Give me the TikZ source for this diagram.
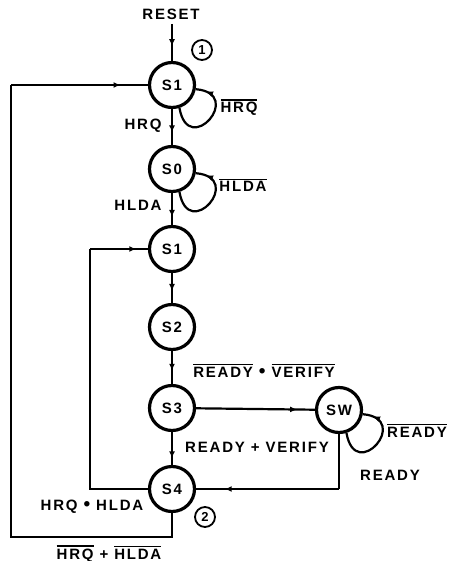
\documentclass[tikz,border=0pt]{standalone}
\usepackage{fontspec}
\setmainfont{Liberation Sans}[LetterSpace=12]
\usetikzlibrary{decorations.markings,arrows.meta}
\newcommand\ovl[1]{\vbox{\hrule height 1.3pt\kern1.8pt\hbox{#1}}}
\newcommand\bigdot{\raisebox{-0.5pt}{\fontsize{19}{19}\selectfont\textbullet}}
\tikzset{
  state/.style={circle,draw,line width=3.2pt,minimum size=45pt,inner sep=0pt,font=\fontsize{15}{17}\selectfont\bfseries},
  conn/.style={line width=2.2pt},
  lbl/.style={anchor=base,inner sep=0pt,font=\fontsize{15}{17}\selectfont\bfseries},
  num/.style={circle,draw,line width=1.8pt,minimum size=20pt,inner sep=0pt,font=\fontsize{13}{15}\selectfont\bfseries},
  marr/.style={postaction={decorate},decoration={markings,mark=at position #1 with {\arrow{Latex[length=7pt,width=6pt]}}}}
}
\begin{document}
\begin{tikzpicture}[x=1pt,y=1pt]
\useasboundingbox (0,0) rectangle (448,-561);
% states
\node[state] (S1a) at (172,-85) {S1};
\node[state] (S0) at (172,-169) {S0};
\node[state] (S1b) at (172,-249) {S1};
\node[state] (S2) at (172,-327) {S2};
\node[state] (S3) at (172,-408) {S3};
\node[state] (S4) at (172,-489) {S4};
\node[state] (SW) at (339,-410) {SW};
% reset
\node[lbl] (reset) at (171,-20) {RESET};
\coordinate (rs) at (172,-24);
\draw[conn,marr=0.6] (rs) -- (S1a);
% numbers
\node[num] (n1) at (202,-50) {1};
\node[num] (n2) at (205,-517) {2};
% vertical transitions
\draw[conn,marr=0.65] (S1a) -- (S0);
\draw[conn,marr=0.75] (S0) -- (S1b);
\draw[conn,marr=0.6] (S1b) -- (S2);
\draw[conn,marr=0.6] (S2) -- (S3);
\draw[conn,marr=0.8] (S3) -- (S4);
\draw[conn,marr=0.85] (S3) -- (SW);
% self loops
\draw[conn,marr=0.88] (S1a.-72) .. controls +(-80:52) and +(-5:50) .. (S1a.-10);
\draw[conn,marr=0.88] (S0.-72) .. controls +(-80:52) and +(-5:50) .. (S0.-10);
\draw[conn,marr=0.88] (SW.-72) .. controls +(-80:52) and +(-5:50) .. (SW.-10);
% loops back
\coordinate (o1) at (172,-537);
\coordinate (o2) at (11,-537);
\coordinate (o3) at (11,-85);
\draw[conn] (S4) -- (o1) -- (o2) -- (o3);
\draw[conn,marr=0.8] (o3) -- (S1a);
\coordinate (i1) at (90,-489);
\coordinate (i2) at (90,-249);
\draw[conn] (S4) -- (i1) -- (i2);
\draw[conn,marr=0.8] (i2) -- (S1b);
\coordinate (w1) at (339,-489);
\draw[conn] (SW) -- (w1);
\draw[conn,marr=0.8] (w1) -- (S4);
% labels
\node[lbl] (l1) at (239,-113) {\ovl{HRQ}};
\node[lbl] (l2) at (143,-130) {HRQ};
\node[lbl] (l3) at (243,-192) {\ovl{HLDA}};
\node[lbl] (l4) at (138,-210) {HLDA};
\node[lbl] (l5) at (264,-377) {\ovl{READY} \bigdot\ \ovl{VERIFY}};
\node[lbl] (l6) at (257,-452) {READY + VERIFY};
\node[lbl] (l7) at (417,-437) {\ovl{READY}};
\node[lbl] (l8) at (390,-480) {READY};
\node[lbl] (l9) at (92,-510) {HRQ \bigdot\ HLDA};
\node[lbl] (l10) at (109,-559) {\ovl{HRQ} + \ovl{HLDA}};
\end{tikzpicture}
\end{document}
